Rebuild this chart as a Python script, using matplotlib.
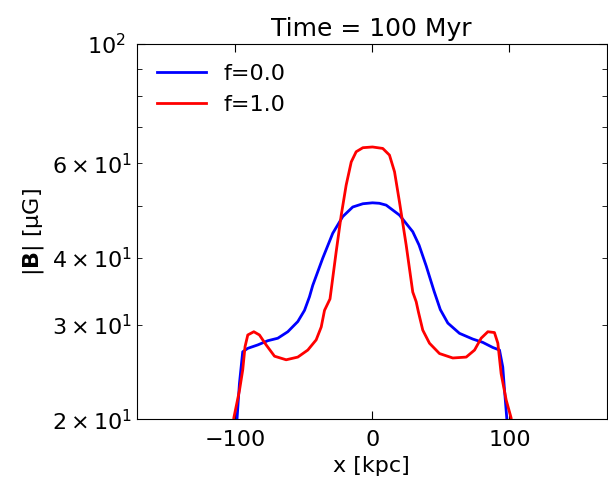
import numpy as np
import matplotlib.pyplot as plt

# values (x in kpc, |B| in muG)
x_f0 = [-100.5, -98.8, -97.1, -94.7, -91, -83.7, -76.4, -69.1, -61.8, -54.5,
        -49.6, -46, -43.6, -36.3, -29, -21.7, -14.4, -7, 0, 5,
        10, 19.7, 29.4, 34, 39.2, 45, 49.5, 55, 63.5, 73.2, 80.5,
        87.8, 92.7, 95.1, 96.4, 98, 99]
b_f0 = [18, 20.1, 23.3, 26.7, 27.1, 27.5, 28.0, 28.3, 29.1, 30.4,
        31.9, 33.8, 35.5, 39.9, 44.4, 47.7, 49.7, 50.4, 50.6, 50.5,
        50.1, 48.0, 44.7, 42.2, 38.6, 34.6, 32.0, 30.2, 28.9, 28.2, 27.8,
        27.2, 26.9, 25.0, 22.6, 20.1, 18]

x_f1 = [-102.5, -101.2, -97.1, -94.7, -93, -91, -86.6, -82.5, -77.6, -71.5,
        -63, -54.5, -47.2, -41.1, -37.4, -35, -31, -26.5, -22.8, -19.2,
        -15.5, -11.9, -7, 0, 7.5, 12.4, 16.1, 19.7, 24.6, 29.4,
        31.9, 33.5, 36.7, 41.6, 48.9, 58.6, 68.4, 74.5, 79.3, 84.2,
        89, 91.5, 93.9, 97.6, 101.2, 102.5]
b_f1 = [18, 20.1, 22.6, 24.7, 27.3, 28.7, 29.1, 28.7, 27.5, 26.2,
        25.8, 26.1, 26.9, 28.1, 29.7, 31.9, 33.5, 41.0, 48.0, 54.6,
        60.3, 63.0, 64.1, 64.3, 63.9, 62.1, 57.8, 50.8, 42.2, 34.5,
        33.1, 31.7, 29.3, 27.7, 26.5, 26.0, 26.1, 26.9, 28.3, 29.1,
        29.0, 27.7, 24.3, 21.7, 20.1, 18]

fig = plt.figure(figsize=(6.08, 4.79), dpi=100)
ax = fig.add_axes([0.225, 0.125, 0.773, 0.783])

ax.plot(x_f0, b_f0, color='blue', lw=2, label='f=0.0')
ax.plot(x_f1, b_f1, color='red', lw=2, label='f=1.0')

ax.set_yscale('log')
ax.set_xlim(-172, 171)
ax.set_ylim(20, 100)
ax.set_xticks([-100, 0, 100])

ax.tick_params(which='both', direction='in', top=True, right=True, labelsize=16)
ax.tick_params(which='major', length=6, pad=8)
ax.tick_params(which='minor', length=3.5)

ax.set_xlabel('x [kpc]', fontsize=16)
ax.set_ylabel(r'$|\mathbf{B}|$ [μG]', fontsize=16)
ax.set_title('Time = 100 Myr', fontsize=18)
ax.legend(loc='upper left', frameon=False, fontsize=16, handlelength=2.2)

fig.savefig('out.png', dpi=100)
